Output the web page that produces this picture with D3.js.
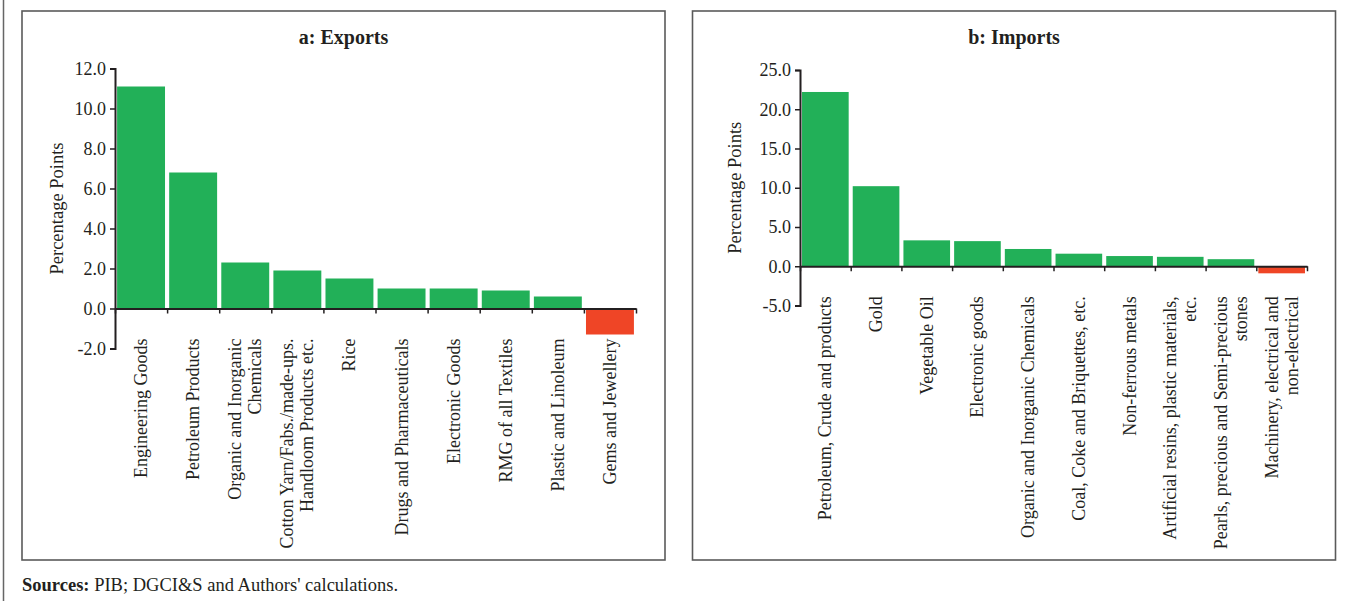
<!DOCTYPE html>
<html>
<head>
<meta charset="utf-8">
<script src="https://cdn.jsdelivr.net/npm/d3@7"></script>
<style>
  body { margin: 0; background: #fff; }
  svg text { font-family: "Liberation Serif", serif; fill: #231f20; }
</style>
</head>
<body>
<div class="canvas"></div>
<script>
// exports: contribution to growth, percentage points
const exportCats = [
  ["Engineering Goods"],
  ["Petroleum Products"],
  ["Organic and Inorganic", "Chemicals"],
  ["Cotton Yarn/Fabs./made-ups.", "Handloom Products etc."],
  ["Rice"],
  ["Drugs and Pharmaceuticals"],
  ["Electronic Goods"],
  ["RMG of all Textiles"],
  ["Plastic and Linoleum"],
  ["Gems and Jewellery"]
];
const exportVals = [11.1, 6.8, 2.3, 1.9, 1.5, 1.0, 1.0, 0.9, 0.6, -1.3];
const exportTicks = [-2, 0, 2, 4, 6, 8, 10, 12];

// imports
const importCats = [
  ["Petroleum, Crude and products"],
  ["Gold"],
  ["Vegetable Oil"],
  ["Electronic goods"],
  ["Organic and Inorganic Chemicals"],
  ["Coal, Coke and Briquettes, etc."],
  ["Non-ferrous metals"],
  ["Artificial resins, plastic materials,", "etc."],
  ["Pearls, precious and Semi-precious", "stones"],
  ["Machinery, electrical and", "non-electrical"]
];
const importVals = [22.2, 10.2, 3.3, 3.2, 2.2, 1.6, 1.3, 1.2, 0.9, -0.9];
const importTicks = [-5, 0, 5, 10, 15, 20, 25];

const W = 1350, H = 601;
const svg = d3.select(".canvas")
  .append("svg")
    .attr("width", W)
    .attr("height", H);

// outer frame line on the left
svg.append("line")
  .attr("x1", 3.5).attr("x2", 3.5)
  .attr("y1", 0).attr("y2", H)
  .attr("stroke", "#666").attr("stroke-width", 1.5);

function drawPanel(p) {
  const g = svg.append("g");

  g.append("rect")
    .attr("x", p.box[0]).attr("y", p.box[1])
    .attr("width", p.box[2]).attr("height", p.box[3])
    .attr("fill", "none")
    .attr("stroke", "#5a5a5a")
    .attr("stroke-width", 1.6);

  g.append("text")
    .attr("x", p.box[0] + p.box[2] / 2)
    .attr("y", 44)
    .attr("text-anchor", "middle")
    .style("font-size", "20px")
    .style("font-weight", "bold")
    .text(p.title);

  const y = d3.scaleLinear()
    .domain(d3.extent(p.ticks))
    .range(p.yRange);

  const x = d3.scaleBand()
    .domain(d3.range(p.vals.length))
    .range(p.xRange)
    .paddingInner(0.08)
    .paddingOuter(0.04);

  // bars
  g.selectAll("rect.bar")
    .data(p.vals)
    .enter()
    .append("rect")
      .attr("class", "bar")
      .attr("x", (d, i) => x(i))
      .attr("width", x.bandwidth())
      .attr("y", d => y(Math.max(0, d)))
      .attr("height", d => Math.abs(y(d) - y(0)))
      .attr("fill", d => d >= 0 ? "#22b058" : "#ef4526");

  // y axis
  const yAxis = d3.axisLeft(y)
    .tickValues(p.ticks)
    .tickSize(5)
    .tickPadding(4)
    .tickFormat(d => d.toFixed(1));
  const yg = g.append("g")
    .attr("transform", `translate(${p.xRange[0]},0)`)
    .call(yAxis);
  yg.select(".domain").attr("stroke", "#231f20").attr("stroke-width", 2);
  yg.selectAll(".tick line").attr("stroke", "#231f20").attr("stroke-width", 1.5);
  yg.selectAll(".tick text")
    .style("font-family", "Liberation Serif")
    .style("font-size", "18px")
    .attr("fill", "#231f20");

  // x axis at zero with ticks on category boundaries
  const xb = d3.scaleLinear()
    .domain([0, p.vals.length])
    .range(p.xRange);
  const xAxis = d3.axisBottom(xb)
    .tickValues(d3.range(p.vals.length + 1))
    .tickSize(5)
    .tickSizeOuter(0)
    .tickFormat("");
  const xg = g.append("g")
    .attr("transform", `translate(0,${y(0)})`)
    .call(xAxis);
  xg.select(".domain").attr("stroke", "#231f20").attr("stroke-width", 2);
  xg.selectAll(".tick line").attr("stroke", "#231f20").attr("stroke-width", 1.5);

  // rotated category labels
  const labelTop = y(0) + 30;
  p.cats.forEach((lines, i) => {
    const cx = x(i) + x.bandwidth() / 2;
    const t = g.append("text")
      .attr("transform", `translate(${cx},${labelTop}) rotate(-90)`)
      .attr("text-anchor", "end")
      .style("font-size", "18px");
    lines.forEach((ln, j) => {
      t.append("tspan")
        .attr("x", 0)
        .attr("y", (j - (lines.length - 1) / 2) * 20)
        .attr("dy", "0.33em")
        .text(ln);
    });
  });

  // y axis title
  g.append("text")
    .attr("transform", `translate(${p.yLabelX},${(p.yRange[0] + p.yRange[1]) / 2}) rotate(-90)`)
    .attr("text-anchor", "middle")
    .attr("dy", "0.33em")
    .style("font-size", "18.5px")
    .text("Percentage Points");
}

drawPanel({
  title: "a: Exports",
  box: [22, 11, 643, 549],
  cats: exportCats,
  vals: exportVals,
  ticks: exportTicks,
  yRange: [348.5, 68.5],
  xRange: [115, 636],
  yLabelX: 57
});

drawPanel({
  title: "b: Imports",
  box: [692.5, 11, 643, 549],
  cats: importCats,
  vals: importVals,
  ticks: importTicks,
  yRange: [305.5, 70],
  xRange: [800, 1307],
  yLabelX: 735
});

// source note
const src = svg.append("text")
  .attr("x", 22)
  .attr("y", 591)
  .style("font-size", "18.5px");
src.append("tspan").style("font-weight", "bold").text("Sources:");
src.append("tspan").text(" PIB; DGCI&S and Authors' calculations.");
</script>
</body>
</html>
